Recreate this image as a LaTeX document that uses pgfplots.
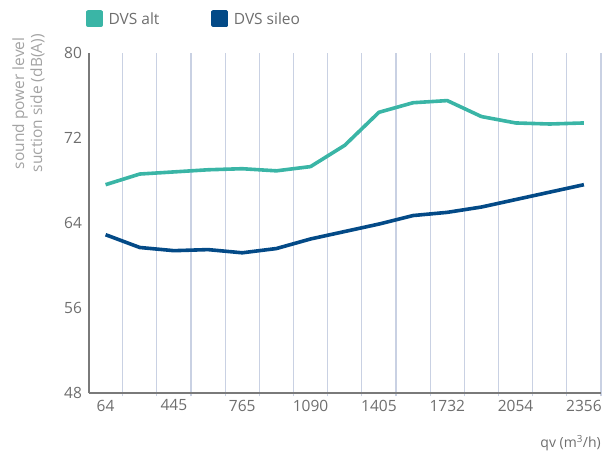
\documentclass[border=0pt]{standalone}
\usepackage{fontspec}
\setmainfont{Open Sans}
\usepackage{pgfplots}
\pgfplotsset{compat=1.18}

\definecolor{alt}{HTML}{3AB5A6}
\definecolor{sileo}{HTML}{034A87}
\definecolor{gridc}{HTML}{C9D1E3}
\definecolor{axisc}{HTML}{7A7A7A}
\definecolor{tickc}{HTML}{6E6E6E}
\definecolor{labc}{HTML}{A3A3A3}

% measured sound power levels, one row per airflow step
\pgfplotstableread{
idx alt   sileo
0   67.6  62.9
1   68.6  61.7
2   68.8  61.4
3   69.0  61.5
4   69.1  61.2
5   68.9  61.6
6   69.3  62.5
7   71.3  63.2
8   74.4  63.9
9   75.3  64.7
10  75.5  65.0
11  74.0  65.5
12  73.4  66.2
13  73.3  66.9
14  73.4  67.6
}\soundtable

\begin{document}
\begin{tikzpicture}
\useasboundingbox (-88.5pt,-60.7pt) rectangle (515.5pt,393.3pt);
\begin{axis}[
    scale only axis,
    width=512.5pt, height=340.6pt,
    xmin=-0.5, xmax=14.5,
    ymin=48, ymax=80,
    axis x line*=bottom,
    axis y line*=left,
    axis line style={axisc, line width=2pt, -},
    xtick={0,2,...,14},
    xticklabels={64,445,765,1090,1405,1732,2054,2356},
    minor xtick={0.5,1.5,...,14.5},
    xminorgrids=true,
    minor grid style={gridc, line width=1.3pt},
    major tick length=0pt,
    minor tick length=3pt,
    minor tick style={gridc, line width=1.3pt},
    xtick align=outside,
    ytick={48,56,64,72,80},
    /pgf/number format/assume math mode=true,
    tick label style={font=\fontsize{15.5}{18}\selectfont, text=tickc},
    xticklabel style={yshift=-3pt},
    yticklabel style={xshift=-3pt},
    xlabel={qv (m\textsuperscript{3}/h)},
    xlabel style={at={(axis description cs:1,0)}, anchor=east, yshift=-49.7pt,
        inner sep=0pt, font=\fontsize{14}{16}\selectfont, text=tickc},
    legend columns=2,
    legend style={draw=none, fill=none, inner sep=0pt,
        at={(axis description cs:-0.005,1.101)}, anchor=west,
        font=\fontsize{15.5}{18}\selectfont, text=tickc,
        nodes={inner sep=0pt, text depth=0pt},
        /tikz/every even column/.append style={column sep=52pt},
        /tikz/every odd column/.append style={column sep=5.5pt}},
    legend image code/.code={\fill[#1] (0pt,-6.6pt) rectangle (13.3pt,6.6pt);},
]
\addplot[alt, line width=3.6pt, line join=round] table[x=idx, y=alt] {\soundtable};
\addlegendentry{DVS alt}
\addplot[sileo, line width=3.6pt, line join=round] table[x=idx, y=sileo] {\soundtable};
\addlegendentry{DVS sileo}
\end{axis}
\node[rotate=90, align=center, text=labc, font=\fontsize{15.5}{18}\selectfont]
    at (-60pt,290pt) {sound power level\\suction side (dB(A))};
\end{tikzpicture}
\end{document}
